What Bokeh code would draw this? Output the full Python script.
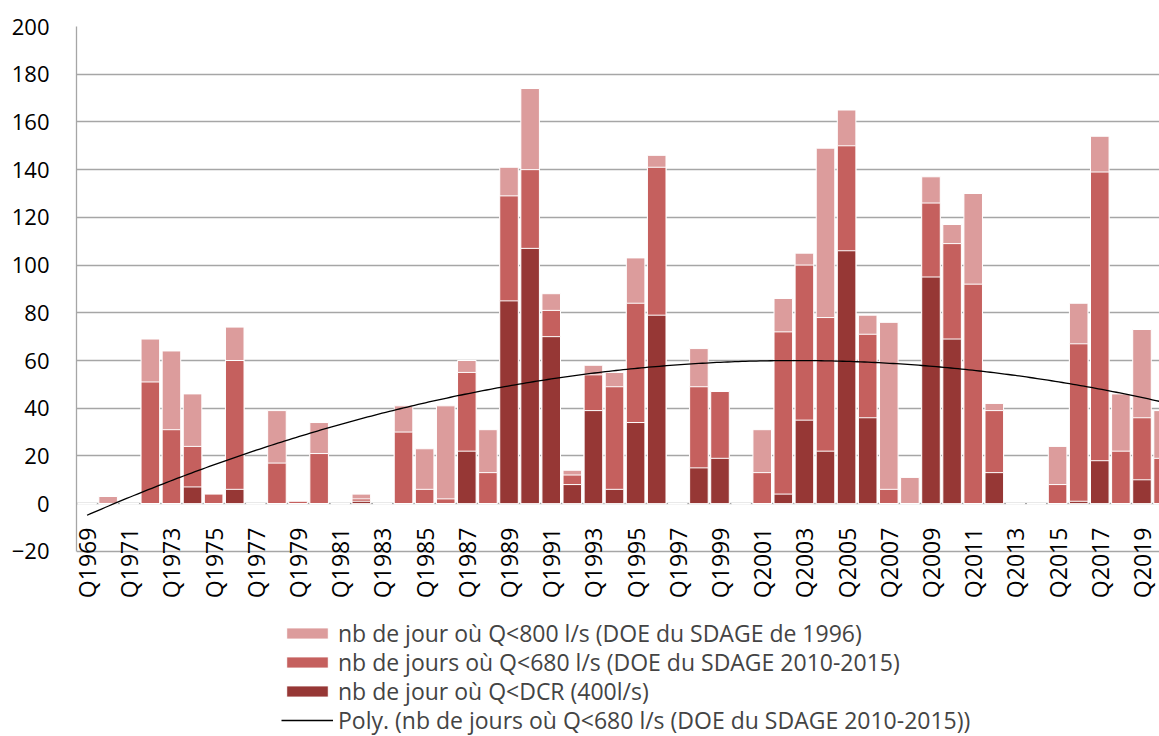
import numpy as np
from bokeh.plotting import figure
from bokeh.models import (ColumnDataSource, Legend, LegendItem,
                          FixedTicker, Range1d)
from bokeh.core.properties import value
from bokeh.embed import file_html
from bokeh.resources import INLINE

years = list(range(1969, 2021))
q800 = [0, 3, 0, 69, 64, 46, 4, 74, 0, 39, 1, 34, 0, 4, 0, 41, 23, 41, 60, 31,
        141, 174, 88, 14, 58, 55, 103, 146, 0, 65, 47, 0, 31, 86, 105, 149, 165,
        79, 76, 11, 137, 117, 130, 42, 0, 0, 24, 84, 154, 46, 73, 39]
q680 = [0, 0, 0, 51, 31, 24, 4, 60, 0, 17, 1, 21, 0, 2, 0, 30, 6, 2, 55, 13,
        129, 140, 81, 12, 54, 49, 84, 141, 0, 49, 47, 0, 13, 72, 100, 78, 150,
        71, 6, 0, 126, 109, 92, 39, 0, 0, 8, 67, 139, 22, 36, 19]
qdcr = [0, 0, 0, 0, 0, 7, 0, 6, 0, 0, 0, 0, 0, 1, 0, 0, 0, 0, 22, 0,
        85, 107, 70, 8, 39, 6, 34, 79, 0, 15, 19, 0, 0, 4, 35, 22, 106,
        36, 0, 0, 95, 69, 0, 13, 0, 0, 0, 1, 18, 0, 10, 0]
tick_years = list(range(1969, 2020, 2))
tick_labels = ["Q%d" % y for y in tick_years]
y_ticks = list(range(-20, 201, 20))

names = ["nb de jour où Q<800 l/s (DOE du SDAGE de 1996)",
         "nb de jours où Q<680 l/s (DOE du SDAGE 2010-2015)",
         "nb de jour où Q<DCR (400l/s)",
         "Poly. (nb de jours où Q<680 l/s (DOE du SDAGE 2010-2015))"]
colors = ["#DC9C9C", "#C5605E", "#963735"]

FONT = "Open Sans"
GRID = "#A6A6A6"

src = ColumnDataSource(dict(year=years, q800=q800, q680=q680, qdcr=qdcr))

# frame spans from the 200 line down to the bottom of the figure
p = figure(width=1159, height=736, output_backend="svg", toolbar_location=None,
           x_range=Range1d(1968.5, 2019.83), y_range=Range1d(-97.6, 200),
           x_axis_location=None, min_border_left=76, min_border_right=0,
           min_border_top=26, min_border_bottom=0)
p.outline_line_color = None
p.xgrid.visible = False
p.ygrid.ticker = FixedTicker(ticks=y_ticks)
p.ygrid.grid_line_color = GRID
p.ygrid.grid_line_width = 1.3

ax = p.yaxis[0]
ax.ticker = FixedTicker(ticks=y_ticks)
ax.bounds = (-20, 200)
ax.major_tick_line_color = None
ax.minor_tick_line_color = None
ax.major_tick_out = 0
ax.major_tick_in = 0
ax.axis_line_color = GRID
ax.axis_line_width = 1.3
ax.major_label_standoff = 27
ax.major_label_text_font = FONT
ax.major_label_text_font_size = "22px"
ax.major_label_text_color = "#000000"

bw = 0.88
r1 = p.vbar(x="year", top="q800", bottom=0, width=bw, source=src,
            fill_color=colors[0], line_color="white", line_width=1)
r2 = p.vbar(x="year", top="q680", bottom=0, width=bw, source=src,
            fill_color=colors[1], line_color="white", line_width=1)
r3 = p.vbar(x="year", top="qdcr", bottom=0, width=bw, source=src,
            fill_color=colors[2], line_color="white", line_width=1)

# polynomial (order 2) trendline fitted on the Q<680 series, as Excel does
idx = np.arange(1, len(years) + 1)
coef = np.polyfit(idx, np.array(q680, dtype=float), 2)
xs = np.linspace(1, len(years), 300)
trend = np.polyval(coef, xs)
r4 = p.line(x=list(xs + 1968), y=list(trend), line_color="black", line_width=1.3)

# category labels, written next to the zero axis (as in the original)
lab_src = ColumnDataSource(dict(x=tick_years, y=[0] * len(tick_years), t=tick_labels))
p.text(x="x", y="y", text="t", source=lab_src, angle=np.pi / 2,
       text_align="right", text_baseline="middle", y_offset=24,
       text_font=value(FONT), text_font_size="23px", text_color="black")

# one legend per row, so the row pitch can follow the original
renderers = [r1, r2, r3, r4]
row_offsets = [87, 58, 29, 0]
for name, rend, vy in zip(names, renderers, row_offsets):
    lg = Legend(items=[LegendItem(label=name, renderers=[rend])],
                location=(205, vy), orientation="vertical",
                glyph_width=52, glyph_height=14, label_height=28, spacing=0,
                padding=0, margin=0, label_standoff=5,
                label_text_font=FONT, label_text_font_size="23px",
                border_line_color=None, background_fill_alpha=0)
    p.add_layout(lg)

open("out.html", "w").write(file_html(p, INLINE))
